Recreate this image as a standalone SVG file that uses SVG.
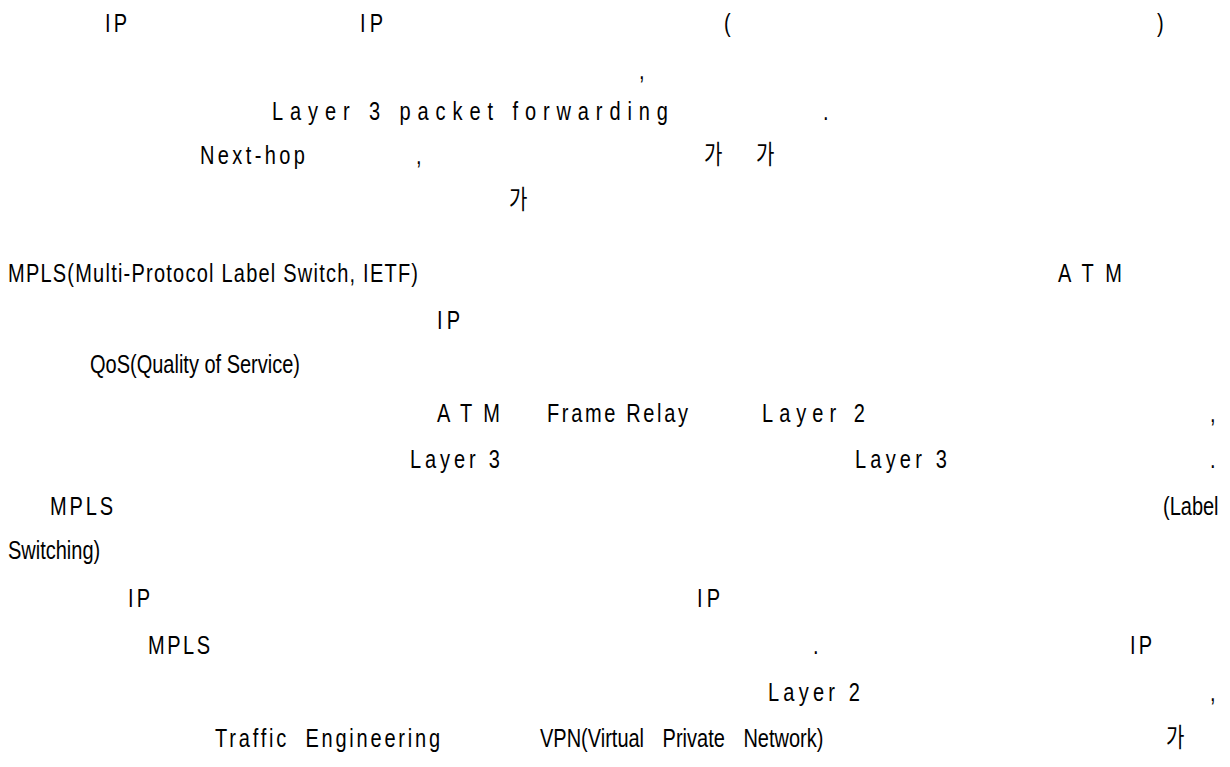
<svg xmlns="http://www.w3.org/2000/svg" width="1230" height="767" viewBox="0 0 1230 767">
<style>
text{font-family:"Liberation Sans","Noto Sans CJK KR",sans-serif;font-size:20px;fill:#000}
</style>
<rect width="1230" height="767" fill="#fff"/>
<g id="page" transform="translate(0,-6) scale(1,1.31)">
<text x="105" y="29" textLength="22" lengthAdjust="spacing">IP</text>
<text x="360" y="29" textLength="23" lengthAdjust="spacing">IP</text>
<text x="724" y="29">(</text>
<text x="1157" y="29">)</text>
<text x="639" y="65">,</text>
<text x="272" y="96" textLength="396" lengthAdjust="spacing">Layer 3 packet forwarding</text>
<text x="823" y="96">.</text>
<text x="200" y="130" textLength="105" lengthAdjust="spacing">Next-hop</text>
<text x="416" y="130">,</text>
<text x="704" y="130">가</text>
<text x="756" y="130">가</text>
<text x="509" y="164">가</text>
<text x="8" y="220" textLength="410" lengthAdjust="spacing">MPLS(Multi-Protocol Label Switch, IETF)</text>
<text x="1058" y="220" textLength="64" lengthAdjust="spacing">ATM</text>
<text x="437" y="256" textLength="23" lengthAdjust="spacing">IP</text>
<text x="90" y="289">QoS(Quality of Service)</text>
<text x="437" y="327" textLength="63" lengthAdjust="spacing">ATM</text>
<text x="547" y="327" textLength="141" lengthAdjust="spacing">Frame Relay</text>
<text x="762" y="327" textLength="103" lengthAdjust="spacing">Layer 2</text>
<text x="1210" y="327">,</text>
<text x="410" y="362" textLength="90" lengthAdjust="spacing">Layer 3</text>
<text x="855" y="362" textLength="92" lengthAdjust="spacing">Layer 3</text>
<text x="1210" y="362">.</text>
<text x="50" y="398" textLength="63" lengthAdjust="spacing">MPLS</text>
<text x="1163" y="398">(Label</text>
<text x="8" y="431">Switching)</text>
<text x="128" y="468" textLength="22" lengthAdjust="spacing">IP</text>
<text x="697" y="468" textLength="23" lengthAdjust="spacing">IP</text>
<text x="148" y="504" textLength="62" lengthAdjust="spacing">MPLS</text>
<text x="813" y="504">.</text>
<text x="1130" y="504" textLength="22" lengthAdjust="spacing">IP</text>
<text x="768" y="540" textLength="92" lengthAdjust="spacing">Layer 2</text>
<text x="1210" y="540">,</text>
<text x="215" y="575" letter-spacing="2.8" word-spacing="8">Traffic Engineering</text>
<text x="540" y="575" word-spacing="13">VPN(Virtual Private Network)</text>
<text x="1166" y="575">가</text>
</g>
</svg>
